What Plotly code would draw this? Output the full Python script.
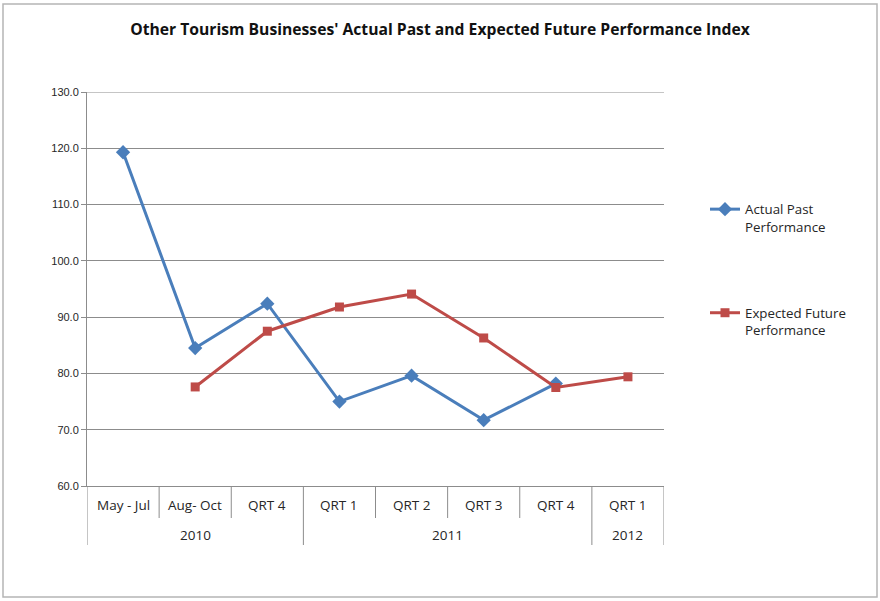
import plotly.graph_objects as go

# ---- data ----
categories = ["May - Jul", "Aug- Oct", "QRT 4", "QRT 1", "QRT 2", "QRT 3", "QRT 4", "QRT 1"]
years = ["2010", "2010", "2010", "2011", "2011", "2011", "2011", "2012"]
actual_past = [119.3, 84.5, 92.4, 75.0, 79.6, 71.7, 78.2, None]
expected_future = [None, 77.6, 87.5, 91.8, 94.1, 86.3, 77.5, 79.4]
y_ticks = [60, 70, 80, 90, 100, 110, 120, 130]
title_text = "Other Tourism Businesses' Actual Past and Expected Future Performance Index"

W, H = 880, 601
ML, MR, MT, MB = 87, 216, 92, 115
plot_w = W - ML - MR
plot_h = H - MT - MB


def py(pix):
    """pixel y (from top) -> paper y"""
    return (H - MB - pix) / plot_h


def px(pix):
    return (pix - ML) / plot_w


xs = list(range(len(categories)))
BLUE = "#4A7EBB"
RED = "#BE4B48"
GRID = "#8C8C8C"
TXT = "#262626"
FONT = "Open Sans"

fig = go.Figure()
fig.add_trace(go.Scatter(
    x=xs, y=actual_past, mode="lines+markers", name="Actual Past<br>Performance",
    line=dict(color=BLUE, width=3), marker=dict(symbol="diamond", size=11, color=BLUE),
    legendgroup="a", connectgaps=False,
))
fig.add_trace(go.Scatter(
    x=xs, y=expected_future, mode="lines+markers", name="Expected Future<br>Performance",
    line=dict(color=RED, width=3), marker=dict(symbol="square", size=9, color=RED),
    legendgroup="b", connectgaps=False,
))

shapes = []
n = len(categories)
for i in range(n + 1):
    is_group = i == 0 or i == n or years[i] != years[i - 1]
    y_end = py(545) if is_group else py(518)
    shapes.append(dict(type="line", xref="x", yref="paper", x0=i - 0.5, x1=i - 0.5,
                       y0=0, y1=y_end, line=dict(color=GRID, width=1)))
# top gridline (at the upper end of the value axis)
shapes.append(dict(type="line", xref="paper", yref="y", x0=0, x1=1,
                   y0=max(y_ticks), y1=max(y_ticks), line=dict(color=GRID, width=1), layer="below"))
# outer chart frame
shapes.append(dict(type="rect", xref="paper", yref="paper",
                   x0=px(3), x1=px(877), y0=py(597), y1=py(4),
                   line=dict(color="#B5B5B5", width=1.5), layer="below"))

annotations = []
for i, c in enumerate(categories):
    annotations.append(dict(x=i, y=py(505), xref="x", yref="paper", text=c, showarrow=False,
                            yanchor="middle", font=dict(family=FONT, size=13.5, color=TXT)))
start = 0
for i in range(1, n + 1):
    if i == n or years[i] != years[start]:
        annotations.append(dict(x=(start + i - 1) / 2, y=py(535), xref="x", yref="paper",
                                text=years[start], showarrow=False, yanchor="middle",
                                font=dict(family=FONT, size=13.5, color=TXT)))
        start = i

fig.update_layout(
    width=W, height=H,
    margin=dict(l=ML, r=MR, t=MT, b=MB),
    paper_bgcolor="white", plot_bgcolor="white",
    title=dict(text="<b>" + title_text + "</b>", x=0.5, xref="container", xanchor="center",
               y=1 - 30 / H, yanchor="middle", yref="container",
               font=dict(family=FONT, size=15.7, color="#111111")),
    xaxis=dict(range=[-0.5, n - 0.5], showticklabels=False, showgrid=False, zeroline=False,
               showline=True, linecolor=GRID, linewidth=1, ticks=""),
    yaxis=dict(range=[60, 130], tickvals=y_ticks, tickformat=".1f", showgrid=True,
               gridcolor=GRID, gridwidth=1, zeroline=False, showline=True, linecolor=GRID,
               linewidth=1, ticks="outside", ticklen=5, tickcolor=GRID,
               tickfont=dict(family="Liberation Sans", size=11, color=TXT)),
    legend=dict(x=px(705), y=py(194), xanchor="left", yanchor="top", valign="top",
                traceorder="grouped", tracegroupgap=66, bgcolor="rgba(0,0,0,0)",
                font=dict(family=FONT, size=13.3, color=TXT), itemwidth=30),
    showlegend=True,
    shapes=shapes, annotations=annotations,
)

fig.write_html("out.html", config={"displayModeBar": False},
               post_script="document.body.style.margin='0';")
